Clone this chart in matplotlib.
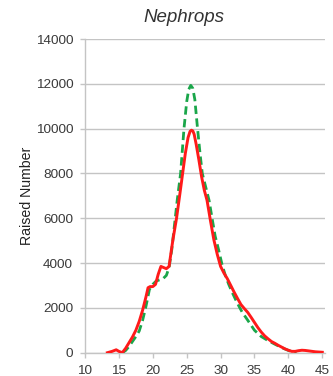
import matplotlib.pyplot as plt

plt.rcParams['font.family'] = ['Liberation Sans', 'DejaVu Sans']

# length (mm) vs raised number, two series
red_len = [13.3, 14.0, 14.6, 15.0, 15.5, 16.0, 16.5, 17.0, 17.5, 18.0, 18.5, 19.0, 19.3, 19.6,
           20.0, 20.4, 20.8, 21.2, 21.6, 22.0, 22.4, 22.75, 23.0, 23.5, 24.0, 24.4, 24.8, 25.2,
           25.5, 25.7, 25.9, 26.1, 26.4, 26.8, 27.2, 27.6, 28.0, 28.5, 29.0, 29.5, 30.0, 30.5,
           31.0, 31.5, 32.0, 32.5, 33.0, 33.5, 34.0, 34.5, 35.0, 35.5, 36.0, 36.5, 37.0, 37.5,
           38.0, 38.5, 39.0, 39.5, 40.0, 40.5, 41.0, 41.5, 42.0, 42.5, 43.0, 44.0, 45.0]
red_num = [0, 60, 130, 60, 0, 200, 450, 700, 1000, 1400, 1900, 2500, 2900, 2950,
           2950, 3050, 3500, 3850, 3800, 3750, 3850, 4600, 5100, 6000, 7100, 8000, 8900, 9600,
           9880, 9930, 9900, 9750, 9300, 8600, 7850, 7250, 6800, 5900, 5050, 4400, 3850, 3550,
           3300, 3000, 2700, 2420, 2150, 1970, 1800, 1580, 1350, 1120, 920, 750, 620, 500,
           420, 330, 250, 170, 110, 60, 60, 90, 110, 100, 80, 40, 20]

green_len = [15.5, 16.0, 16.5, 17.0, 17.5, 18.0, 18.5, 19.0, 19.5, 20.0, 20.5, 21.0, 21.5,
             22.0, 22.4, 22.8, 23.2, 23.6, 24.1, 24.6, 25.0, 25.3, 25.6, 25.9, 26.2, 26.6,
             27.0, 27.3, 27.8, 28.3, 28.8, 29.2, 29.7, 30.2, 30.7, 31.2, 31.7, 32.2, 32.7,
             33.2, 34.0, 35.0, 36.0, 37.0, 38.0, 39.0, 40.0, 40.8, 41.2]
green_num = [0, 100, 280, 500, 720, 970, 1450, 2080, 2820, 3050, 3200, 3250, 3300,
             3450, 3800, 4600, 5700, 6800, 8000, 10000, 11200, 11750, 11930, 11800, 11300, 10000,
             8800, 8000, 7400, 6800, 5900, 5200, 4600, 3950, 3450, 3050, 2700, 2380, 2080,
             1800, 1450, 1000, 720, 540, 380, 230, 100, 20, 0]

fig = plt.figure(figsize=(3.33, 3.76), dpi=100)
ax = fig.add_axes([85 / 333, 1 - 352.7 / 376, 240 / 333, (352.7 - 39) / 376])

ax.plot(green_len, green_num, color='#1aa64a', lw=2.0, dashes=(3, 1.6), zorder=3)
ax.plot(red_len, red_num, color='#ff1a1a', lw=2.1, zorder=4)

ax.set_xlim(10, 45.4)
ax.set_ylim(0, 14000)
ax.set_xticks(range(10, 46, 5))
ax.set_yticks(range(0, 14001, 2000))
ax.yaxis.grid(True, color='#c4c4c4', lw=1.0)
ax.set_axisbelow(True)

for side in ('top', 'right'):
    ax.spines[side].set_visible(False)
for side in ('left', 'bottom'):
    ax.spines[side].set_color('#c4c4c4')
    ax.spines[side].set_linewidth(1.0)
ax.tick_params(axis='both', colors='#c4c4c4', length=3.5, width=1.0,
               labelsize=9.7, labelcolor='#3a3a3a')
ax.tick_params(axis='y', pad=5)
ax.tick_params(axis='x', pad=5)

ax.set_ylabel('Raised Number', fontsize=10.2, color='#222222', labelpad=1)
fig.text(184 / 333, 1 - 18 / 376, 'Nephrops', fontsize=13.5, style='italic',
         color='#333333', ha='center', va='center')

fig.savefig('out.png', dpi=100)
